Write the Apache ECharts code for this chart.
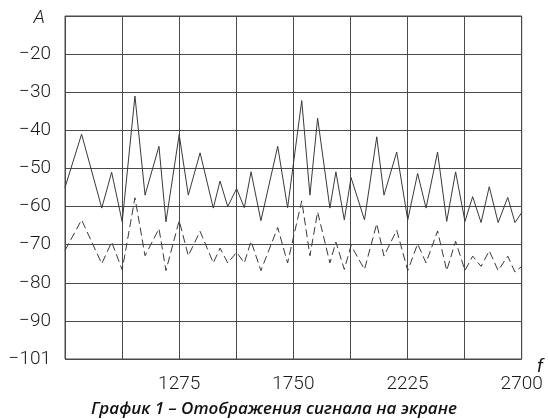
<!DOCTYPE html>
<html><head><meta charset="utf-8">
<script src="https://cdn.jsdelivr.net/npm/echarts@6/dist/echarts.min.js"></script>
<style>html,body{margin:0;padding:0;background:#fff}#c{width:548px;height:419px}</style>
</head><body><div id="c"></div>
<script>
// Frequency positions of the vertices (f)
const freqs = [800,869,953,994,1038,1091,1133,1191,1220,1275,1313,1362,1417,1445,1477,1514,1546,1574,1615,1685,1726,1785,1819,1851,1902,1927,1962,1990,2046,2097,2127,2180,2226,2267,2302,2350,2388,2425,2464,2496,2531,2565,2602,2642,2672,2700];
// Solid trace (A)
const solidA = [-55,-41,-60.4,-51,-64,-31,-57,-44.2,-64,-41.1,-57,-45.9,-60.4,-53.3,-60,-55.3,-60.3,-50.9,-63.7,-44.2,-60.3,-32.2,-57,-36.8,-60.4,-50.9,-63.5,-52.4,-63.5,-41.7,-57,-45.7,-63.5,-51.3,-60.4,-45.7,-63.9,-50.9,-63.9,-57.4,-64.2,-54.8,-64.2,-57.6,-64.2,-61.6];
// Dashed trace (A)
const dashedA = [-71.5,-63.5,-75,-69.3,-76.6,-57.7,-72.9,-65.8,-76.8,-63.7,-72.9,-66.5,-74.8,-70.9,-74.8,-72,-74.8,-69.1,-76.8,-65.5,-74.8,-58.5,-72.9,-61.4,-74.8,-69.3,-76.5,-70.2,-76.5,-64.5,-73,-66.2,-76.8,-69.8,-74.8,-66.4,-76.8,-69.1,-76.8,-73,-75.7,-71.6,-76.8,-73,-77.2,-75.7];
// Axis ticks / labels
const xGridValues = [800,1037.5,1275,1512.5,1750,1987.5,2225,2462.5,2700];
const xLabelValues = [1275,1750,2225,2700];
const yMin = -100, yMax = -10, yStep = 10;
const yBottomLabel = '−101';
const yTopLabel = 'A';
const xName = 'f';
const caption = 'График 1 – Отображения сигнала на экране';

const chart = echarts.init(document.getElementById('c'), null, {renderer:'canvas'});
const lineCol = '#3a3a3a';
const gridCol = '#4a4a4a';
const numFont = {fontFamily:'Roboto', fontWeight:300, fontSize:19, color:'#1a1a1a'};
chart.setOption({
  animation:false,
  backgroundColor:'#fff',
  title:{text:caption, left:'center', bottom:-4,
    textStyle:{fontFamily:'Open Sans', fontStyle:'italic', fontWeight:600, fontSize:17, color:'#111'}},
  grid:{left:65, right:26.3, top:16, bottom:60, show:true, borderColor:gridCol, borderWidth:1,
    containLabel:false, outerBoundsMode:'none'},
  xAxis:{type:'value', min:800, max:2700,
    name:xName, nameLocation:'end', nameGap:15, nameMoveOverlap:false,
    nameTextStyle:{fontFamily:'Roboto', fontStyle:'italic', fontSize:19, color:'#1a1a1a', verticalAlign:'top', lineHeight:16},
    axisLine:{show:false}, axisTick:{show:false, customValues:xGridValues},
    axisLabel:{customValues:xLabelValues, margin:16, ...numFont, formatter:v=>String(Math.round(v))},
    splitLine:{show:true, lineStyle:{color:gridCol, width:1}}},
  yAxis:{type:'value', min:yMin, max:yMax, interval:yStep,
    axisLine:{show:false}, axisTick:{show:false},
    axisLabel:{margin:14, ...numFont,
      formatter:v=> v===yMax ? '{a|'+yTopLabel+'}' : (v===yMin ? yBottomLabel : '−'+Math.abs(v)),
      rich:{a:{fontFamily:'Roboto', fontStyle:'italic', fontSize:19, color:'#1a1a1a', padding:[4,6,0,0]}}},
    splitLine:{show:true, lineStyle:{color:gridCol, width:1}}},
  series:[
    {type:'line', data:freqs.map((f,i)=>[f, solidA[i]]), symbol:'none',
      lineStyle:{color:lineCol, width:1}},
    {type:'line', data:freqs.map((f,i)=>[f, dashedA[i]]), symbol:'none',
      lineStyle:{color:lineCol, width:1, type:[8,4]}}
  ]
});
</script></body></html>
